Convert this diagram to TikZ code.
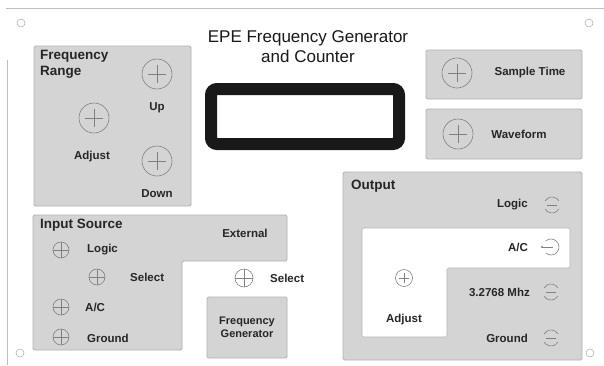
\documentclass[tikz,border=0pt]{standalone}
\usepackage{fontspec}
\setmainfont{Liberation Sans}
\begin{document}
\begin{tikzpicture}[x=1pt,y=-1pt,
  panel/.style={fill=black!17,draw=black!30,line width=0.8pt,rounded corners=1.5pt},
  kc/.style={draw=black!50,line width=0.6pt},
  lbl/.style={font=\fontsize{11.5}{13}\selectfont\bfseries,text=black!85,inner sep=0pt},
  hdr/.style={font=\fontsize{13.5}{16}\selectfont\bfseries,text=black!85,inner sep=0pt,align=left},
  pics/knob/.style={code={
    \draw[kc] (0,0) circle[radius=#1pt];
    \draw[kc] (-0.6*#1,0)--(0.6*#1,0) (0,-0.6*#1)--(0,0.6*#1);}},
  pics/sknob/.style={code={
    \draw[kc] (0,0) circle[radius=#1pt];
    \draw[kc] (-#1,0)--(#1,0) (0,-#1)--(0,#1);}},
  pics/outsw/.style={code={
    \draw[kc] (30:8pt) arc[start angle=30,end angle=150,radius=8pt];
    \draw[kc] (210:8pt) arc[start angle=210,end angle=330,radius=8pt];
    \draw[kc] (-5,0)--(5,0);}},
  pics/acsw/.style={code={
    \draw[kc] (-130:8pt) arc[start angle=-130,end angle=130,radius=8pt];
    \draw[kc] (-9,0)--(2,0);
    \fill[black!50] (-9,0) circle[radius=1.2pt];}}
]
\useasboundingbox (0,0) rectangle (604,365);
\fill[white] (0,0) rectangle (604,365);
% page frame remnants
\draw[black!25,line width=0.7pt] (6,8) -- (604,8);
\draw[black!25,line width=0.7pt] (7,60) -- (7,365);
\foreach \p in {(21,23),(589,23),(20,353),(590,353)}
  \draw[black!35,line width=0.5pt] \p circle[radius=4pt];

% title
\node[font=\fontsize{17}{20}\selectfont,align=center,text=black!90,inner sep=0pt] (title) at (308,47) {EPE Frequency Generator\\and Counter};

% display
\draw[line width=12pt,rounded corners=6pt,black!90] (211,89) rectangle (399,144);
\node[inner sep=0pt] (display) at (305,116.5) {};

% Frequency range panel
\draw[panel] (34,46) rectangle (191,206);
\node[hdr,anchor=north west] (fr) at (40,50) {Frequency\\Range};
\pic at (157,74) {knob=15};
\node[lbl] (up) at (157,108) {Up};
\pic at (94,118) {knob=15};
\node[lbl] (adj1) at (92,157) {Adjust};
\pic at (157,161) {knob=15};
\node[lbl] (down) at (157,194) {Down};

% Sample time / waveform
\draw[panel] (426,50) rectangle (582,99);
\pic at (457,73) {knob=15};
\node[lbl] (st) at (530,73) {Sample Time};
\draw[panel] (426,109) rectangle (582,159);
\pic at (458,134) {knob=15};
\node[lbl] (wf) at (519,134) {Waveform};

% Input source panel
\draw[panel] (33,215) -- (287,215) -- (287,261) -- (182,261) -- (182,350) -- (33,350) -- cycle;
\node[hdr,anchor=west] (is) at (40,225) {Input Source};
\node[lbl] (ext) at (245,233) {External};
\pic at (61,250) {sknob=8};
\node[lbl,anchor=west] (ilogic) at (87,250) {Logic};
\pic at (97,277) {sknob=8};
\node[lbl,anchor=west] (isel) at (130,277) {Select};
\pic at (61,307) {sknob=8};
\node[lbl,anchor=west] (iac) at (85,307) {A/C};
\pic at (61,337) {sknob=8};
\node[lbl,anchor=west] (ignd) at (87,338) {Ground};
\pic at (244,278) {sknob=9};
\node[lbl,anchor=west] (esel) at (270,278) {Select};

% Frequency generator panel
\draw[panel] (207,297) rectangle (287,358);
\node[lbl,align=center,font=\fontsize{11}{13}\selectfont\bfseries] (fg) at (247,327) {Frequency\\Generator};

% Output panel
\draw[panel] (343,172) rectangle (582,360);
\fill[white,draw=black!30,line width=0.6pt,rounded corners=1.5pt]
  (362,228) -- (570,228) -- (570,268) -- (447,268) -- (447,337) -- (362,337) -- cycle;
\node[hdr,anchor=west] (out) at (351,186) {Output};
\node[lbl,anchor=east] (ologic) at (528,205) {Logic};
\pic at (552,205) {outsw};
\node[lbl,anchor=east] (oac) at (528,247) {A/C};
\pic at (551,247) {acsw};
\node[lbl,anchor=east] (omhz) at (530,292) {3.2768 Mhz};
\pic at (551,292) {outsw};
\node[lbl,anchor=east] (ognd) at (528,338) {Ground};
\pic at (551,338) {outsw};
\draw[kc] (404,278) circle[radius=8.5pt];
\draw[kc] (399,278)--(409,278) (404,273)--(404,283);
\node[lbl] (adj2) at (404,320) {Adjust};
\end{tikzpicture}
\end{document}
